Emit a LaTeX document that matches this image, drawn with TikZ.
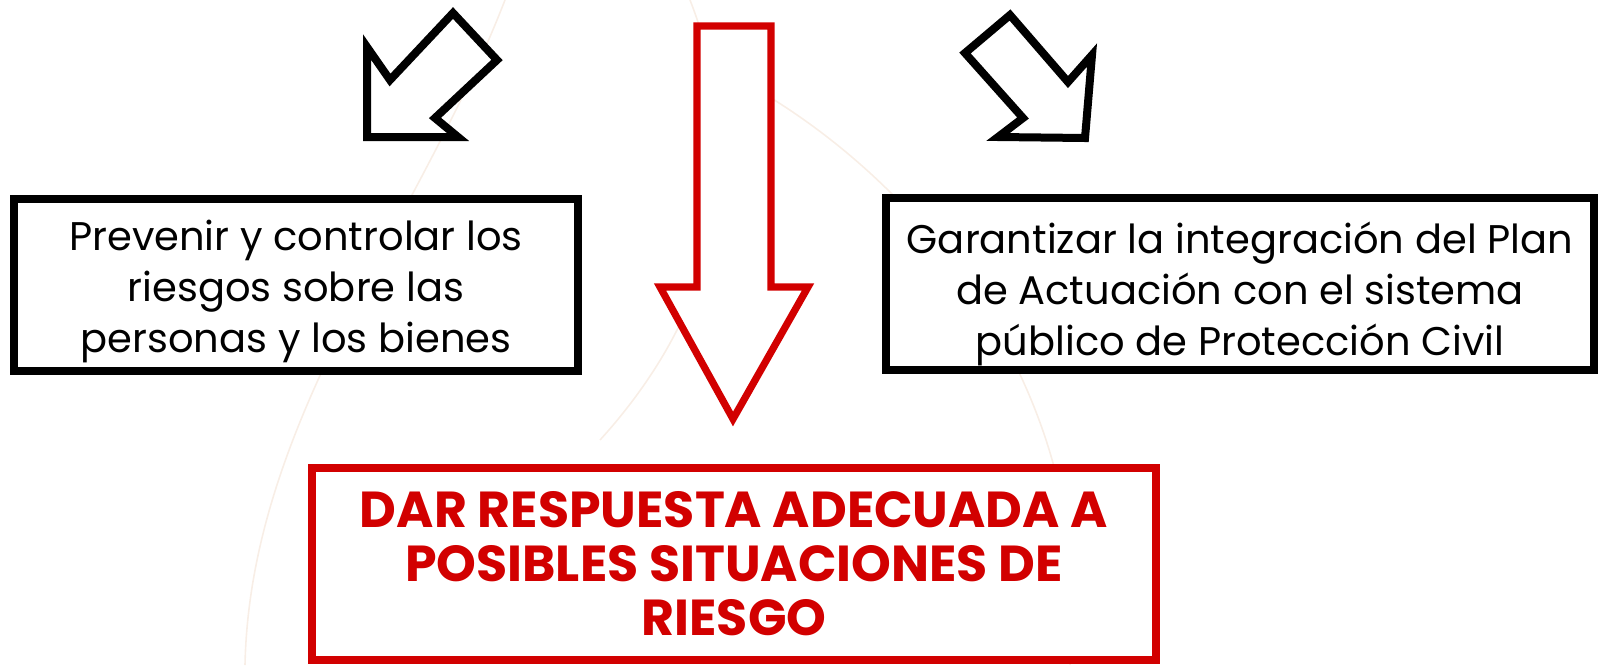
\documentclass[tikz,border=0pt]{standalone}
\usepackage{fontspec}
\setmainfont{Poppins}
\usetikzlibrary{positioning}
\definecolor{alarmRed}{RGB}{210,0,0}
\definecolor{flameTrace}{RGB}{248,238,230}
\newcommand{\lineLift}[1]{\rule{0pt}{#1}}
\tikzset{
  aimBox/.style={draw, line width=4pt, fill=white, align=center, inner sep=0pt,
    font=\fontsize{20}{25.5}\selectfont},
  goalBox/.style={draw=alarmRed, line width=4pt, fill=white, align=center, inner sep=0pt,
    text=alarmRed, font=\fontsize{25.3}{27}\bfseries\selectfont},
  blockArrow/.style={draw, line width=4pt, fill=white, line join=miter},
  bigArrow/.style={draw=alarmRed, line width=3.6pt, fill=white, line join=miter},
  trace/.style={draw=flameTrace, line width=0.8pt}
}
\begin{document}
\begin{tikzpicture}[x=0.5pt, y=-0.5pt]
  \useasboundingbox (0,0) rectangle (1598,665);
  % faint watermark behind everything
  \draw[trace] (505,0) .. controls (420,220) and (250,420) .. (245,665);
  \draw[trace] (690,0) .. controls (760,180) and (700,330) .. (600,440);
  \draw[trace] (700,60) .. controls (900,150) and (1100,380) .. (1070,665);

  % the three aims
  \node[aimBox, minimum width=282pt, minimum height=86pt] (prevenir) at (296,285)
    {\lineLift{22pt}Prevenir y controlar los\\riesgos sobre las\\personas y los bienes};
  \node[aimBox, minimum width=354pt, minimum height=86pt] (garantizar) at (1240,284)
    {\lineLift{26pt}Garantizar la integración del Plan\\de Actuación con el sistema\\público de Protección Civil};
  \node[goalBox, minimum width=422pt, minimum height=96pt] (respuesta) at (734,564)
    {DAR RESPUESTA ADECUADA A\\POSIBLES SITUACIONES DE\\RIESGO};

  % block arrows
  \draw[blockArrow] (367,47) -- (390,80) -- (453,13) -- (497,60) -- (435,118)
    -- (458,137) -- (367,137) -- cycle;
  \draw[blockArrow] (1010,15) -- (965,53) -- (1023,118) -- (998,137) -- (1085,138)
    -- (1092,55) -- (1068,82) -- cycle;
  \draw[bigArrow] (697,26) -- (771,26) -- (771,287) -- (808,287) -- (733,419)
    -- (660,287) -- (697,287) -- cycle;
\end{tikzpicture}
\end{document}
